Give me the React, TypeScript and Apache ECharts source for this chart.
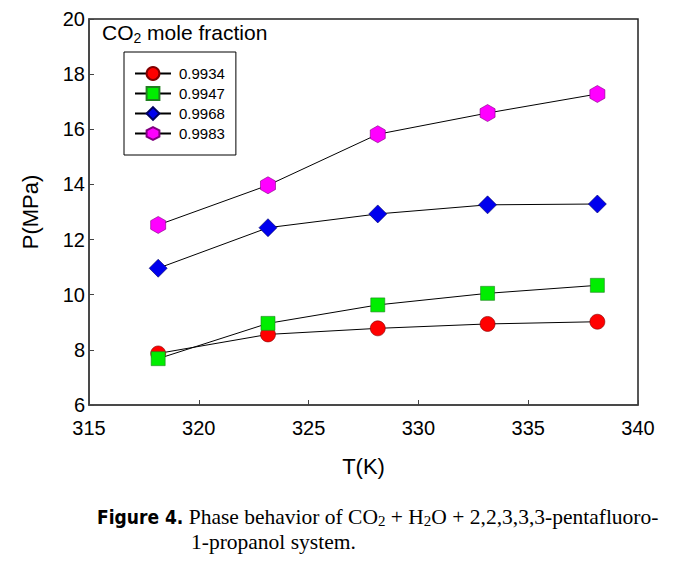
import React, { useEffect, useRef } from "react";
import * as echarts from "echarts";

const temps = [318.15, 323.15, 328.15, 333.15, 338.15];
const seriesNames = ["0.9934", "0.9947", "0.9968", "0.9983"];
const p9934 = [7.87, 8.56, 8.78, 8.94, 9.02];
const p9947 = [7.68, 8.96, 9.63, 10.05, 10.34];
const p9968 = [10.96, 12.43, 12.93, 13.26, 13.29];
const p9983 = [12.53, 13.97, 15.82, 16.59, 17.28];
const xTicks = [315, 340, 5];
const yTicks = [6, 20, 2];

const HEX = "path://M0,-1 L0.866,-0.5 L0.866,0.5 L0,1 L-0.866,0.5 L-0.866,-0.5 Z";

export default function App() {
  const ref = useRef<HTMLDivElement>(null);
  useEffect(() => {
    if (!ref.current) return;
    const chart = echarts.init(ref.current, null, { renderer: "svg" });
    const mk = (vals: number[]) => temps.map((t, i) => [t, vals[i]]);
    const styles = [
      { data: p9934, symbol: "circle", size: 15, color: "#ff0000", border: "#800000" },
      { data: p9947, symbol: "rect", size: 14, color: "#00ee00", border: "#208020" },
      { data: p9968, symbol: "diamond", size: [18, 18], color: "#0000ee", border: "#000060" },
      { data: p9983, symbol: HEX, size: [15, 17], color: "#ff00ff", border: "#800080" },
    ];
    const font = "Liberation Sans, Arial, sans-serif";
    const serif = "Liberation Serif, Times New Roman, serif";
    chart.setOption({
      animation: false,
      backgroundColor: "#fff",
      grid: {
        left: 89, right: 47, top: 19, bottom: 158,
        show: true, borderColor: "#222", borderWidth: 1.5,
      },
      xAxis: {
        type: "value", min: xTicks[0], max: xTicks[1], interval: xTicks[2],
        name: "T(K)", nameLocation: "middle", nameGap: 50,
        nameTextStyle: { fontFamily: font, fontSize: 22, color: "#000" },
        axisLine: { lineStyle: { color: "#444", width: 1.5 } },
        axisTick: { inside: true, length: 5, lineStyle: { color: "#444" } },
        axisLabel: { fontFamily: font, fontSize: 20, color: "#000", margin: 13 },
        splitLine: { show: false },
      },
      yAxis: {
        type: "value", min: yTicks[0], max: yTicks[1], interval: yTicks[2],
        name: "P(MPa)", nameLocation: "middle", nameGap: 48, nameRotate: 90,
        nameTextStyle: { fontFamily: font, fontSize: 22, color: "#000" },
        axisLine: { lineStyle: { color: "#444", width: 1.5 } },
        axisTick: { inside: true, length: 5, lineStyle: { color: "#444" } },
        axisLabel: { fontFamily: font, fontSize: 20, color: "#000", margin: 4 },
        splitLine: { show: false },
      },
      legend: {
        left: 124, top: 52,
        orient: "vertical",
        borderColor: "#000", borderWidth: 1,
        padding: [14, 11, 14, 10],
        itemWidth: 36, itemHeight: 16, itemGap: 5,
        textStyle: { fontFamily: font, fontSize: 15, color: "#000", padding: [0, 0, 0, 3] },
        data: seriesNames,
      },
      series: styles.map((s, i) => ({
        name: seriesNames[i],
        type: "line",
        data: mk(s.data),
        symbol: s.symbol,
        symbolSize: s.size,
        showSymbol: true,
        lineStyle: { color: "#000", width: 1 },
        itemStyle: { color: s.color, borderColor: s.border, borderWidth: 0.6 },
        z: 2 + i,
      })),
      graphic: [
        {
          type: "text", left: 102, top: 20,
          style: {
            text: "{a|CO}{s|2}{a| mole fraction}",
            rich: {
              a: { fontFamily: font, fontSize: 21, fill: "#000", lineHeight: 26 },
              s: { fontFamily: font, fontSize: 14, fill: "#000", lineHeight: 26, padding: [11, 0, 0, 0] },
            },
          },
        },
        {
          type: "text", left: 97, top: 505,
          style: {
            text: "{b|Figure 4.}{t| Phase behavior of CO}{s|2}{t| + H}{s|2}{t|O + 2,2,3,3,3-pentafluoro-}",
            rich: {
              b: { fontFamily: "DejaVu Sans Condensed, Liberation Sans Narrow, sans-serif", fontWeight: "bold", fontSize: 19, fill: "#000", lineHeight: 26 },
              t: { fontFamily: serif, fontSize: 21.5, fill: "#000", lineHeight: 26 },
              s: { fontFamily: serif, fontSize: 15, fill: "#000", lineHeight: 26, padding: [8, 0, 0, 0] },
            },
          },
        },
        {
          type: "text", left: 191, top: 531,
          style: { text: "1-propanol system.", fontFamily: serif, fontSize: 21.5, fill: "#000" },
        },
      ],
    });
    return () => chart.dispose();
  }, []);
  return (
    <div
      ref={ref}
      style={{ position: "fixed", left: 0, top: 0, width: 685, height: 563, background: "#fff" }}
    />
  );
}
